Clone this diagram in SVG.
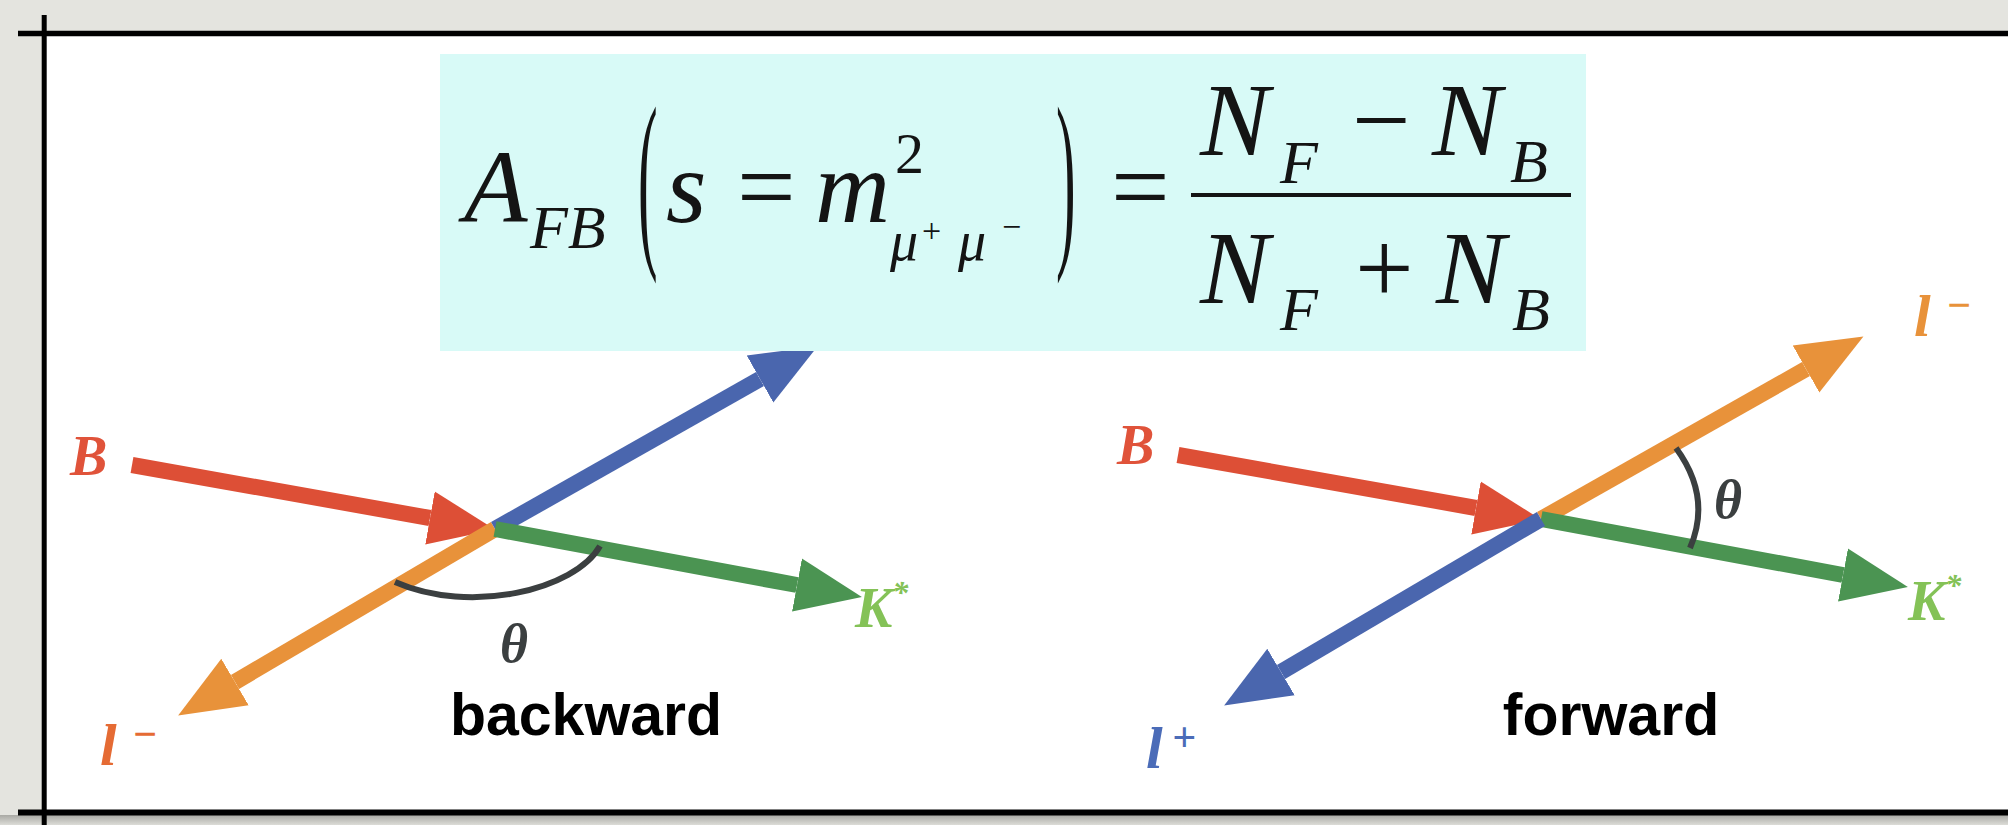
<svg xmlns="http://www.w3.org/2000/svg" width="2008" height="825" viewBox="0 0 2008 825">
<defs>
<style>
.lbl{font-family:"Liberation Serif","DejaVu Serif",serif;font-style:italic;font-weight:bold}
.eq{font-family:"Liberation Serif","DejaVu Serif",serif;font-style:italic;fill:#141414}
.up{font-style:normal}
.cap{font-family:"Liberation Sans",Arial,sans-serif;font-weight:bold;font-size:59px;fill:#000;text-anchor:middle}
.arc{fill:none;stroke:#3b3f40;stroke-width:6}
.shaft{fill:none;stroke-width:16;stroke-linecap:butt}
.frame{stroke:#000;fill:none}
</style>
<linearGradient id="shadowB" x1="0" y1="0" x2="0" y2="1">
<stop offset="0" stop-color="#a9a9a4"/>
<stop offset="1" stop-color="#dcdcd7"/>
</linearGradient>
<marker id="hRed" markerUnits="userSpaceOnUse" markerWidth="68" markerHeight="58" refX="0" refY="29" orient="auto"><path d="M0,2 L66,29 L0,56 Z" fill="#dd4f36"/></marker>
<marker id="hBlue" markerUnits="userSpaceOnUse" markerWidth="68" markerHeight="58" refX="0" refY="29" orient="auto"><path d="M0,2 L66,29 L0,56 Z" fill="#4a66ae"/></marker>
<marker id="hOrange" markerUnits="userSpaceOnUse" markerWidth="68" markerHeight="58" refX="0" refY="29" orient="auto"><path d="M0,2 L66,29 L0,56 Z" fill="#e8923a"/></marker>
<marker id="hGreen" markerUnits="userSpaceOnUse" markerWidth="68" markerHeight="58" refX="0" refY="29" orient="auto"><path d="M0,2 L66,29 L0,56 Z" fill="#4b9452"/></marker>
</defs>

<!-- page background -->
<rect x="0" y="0" width="2008" height="825" fill="#e4e4df"/>
<rect x="0" y="815" width="2008" height="10" fill="url(#shadowB)"/>
<rect x="44" y="33" width="1964" height="779" fill="#ffffff"/>

<!-- frame lines -->
<g id="frame">
<line class="frame" x1="18" y1="33.5" x2="2008" y2="33.5" stroke-width="5.5"/>
<line class="frame" x1="44.2" y1="15" x2="44.2" y2="825" stroke-width="5"/>
<line class="frame" x1="18" y1="812.5" x2="2008" y2="812.5" stroke-width="6"/>
</g>

<!-- connectors (arrows) -->
<g id="connectors">
<!-- backward (left) -->
<path class="shaft" stroke="#dd4f36" d="M132,465 L430,518" marker-end="url(#hRed)"/>
<path class="shaft" stroke="#e8923a" d="M495,529 L235,682" marker-end="url(#hOrange)"/>
<path class="shaft" stroke="#4a66ae" d="M495,529 L760,379" marker-end="url(#hBlue)"/>
<path class="shaft" stroke="#4b9452" d="M495,529 L797,585" marker-end="url(#hGreen)"/>
<path class="arc" d="M395,582 C470,615 575,590 600,546"/>
<!-- forward (right) -->
<path class="shaft" stroke="#dd4f36" d="M1178,455 L1476,508" marker-end="url(#hRed)"/>
<path class="shaft" stroke="#e8923a" d="M1541,519 L1806,369" marker-end="url(#hOrange)"/>
<path class="shaft" stroke="#4b9452" d="M1541,519 L1843,575" marker-end="url(#hGreen)"/>
<path class="shaft" stroke="#4a66ae" d="M1541,519 L1281,672" marker-end="url(#hBlue)"/>
<path class="arc" d="M1676,448 Q1712,497 1690,548"/>
</g>

<!-- formula box -->
<g id="formula">
<rect x="440" y="54" width="1146" height="297" fill="#d8faf7"/>
<text class="eq" x="464" y="222" font-size="104">A</text>
<text class="eq" x="530" y="248" font-size="62">FB</text>
<text class="eq up" transform="translate(638,242) scale(0.3,1)" font-size="196">(</text>
<text class="eq" x="666" y="222" font-size="104">s</text>
<text class="eq up" x="737" y="222" font-size="104">=</text>
<text class="eq" x="815" y="222" font-size="104">m</text>
<text class="eq up" x="895" y="173" font-size="58">2</text>
<text class="eq" x="890" y="260" font-size="56">μ</text>
<text class="eq up" x="922" y="242" font-size="34">+</text>
<text class="eq" x="958" y="260" font-size="56">μ</text>
<text class="eq up" x="1002" y="238" font-size="34">−</text>
<text class="eq up" transform="translate(1056,242) scale(0.3,1)" font-size="196">)</text>
<text class="eq up" x="1111" y="222" font-size="104">=</text>
<rect x="1191" y="193" width="380" height="4" fill="#141414"/>
<text class="eq" x="1200" y="155" font-size="104">N</text>
<text class="eq" x="1280" y="183" font-size="62">F</text>
<text class="eq up" x="1352" y="155" font-size="104">−</text>
<text class="eq" x="1432" y="155" font-size="104">N</text>
<text class="eq" x="1510" y="182" font-size="62">B</text>
<text class="eq" x="1200" y="303" font-size="104">N</text>
<text class="eq" x="1280" y="330" font-size="62">F</text>
<text class="eq up" x="1355" y="303" font-size="104">+</text>
<text class="eq" x="1436" y="303" font-size="104">N</text>
<text class="eq" x="1512" y="330" font-size="62">B</text>
</g>

<!-- backward diagram labels -->
<g id="backward">
<text class="lbl" x="70" y="475" font-size="56" fill="#e0533a">B</text>
<text class="lbl" x="855" y="627" font-size="56" fill="#84c257">K<tspan font-size="32" dy="-24">*</tspan></text>
<text class="lbl" x="100" y="765" font-size="60" fill="#e56b34">l<tspan x="132" dy="-17" font-size="42">−</tspan></text>
<text class="lbl" x="500" y="662" font-size="54" fill="#3b3f40">θ</text>
<text class="cap" x="586" y="735">backward</text>
</g>

<!-- forward diagram labels -->
<g id="forward">
<text class="lbl" x="1117" y="464" font-size="56" fill="#e0533a">B</text>
<text class="lbl" x="1908" y="620" font-size="56" fill="#84c257">K<tspan font-size="32" dy="-24">*</tspan></text>
<text class="lbl" x="1914" y="336" font-size="60" fill="#e8923a">l<tspan x="1946" dy="-17" font-size="42">−</tspan></text>
<text class="lbl" x="1146" y="768" font-size="60" fill="#4b6cb8">l<tspan x="1172" dy="-17" font-size="42">+</tspan></text>
<text class="lbl" x="1714" y="518" font-size="54" fill="#3b3f40">θ</text>
<text class="cap" x="1611" y="735">forward</text>
</g>
</svg>
